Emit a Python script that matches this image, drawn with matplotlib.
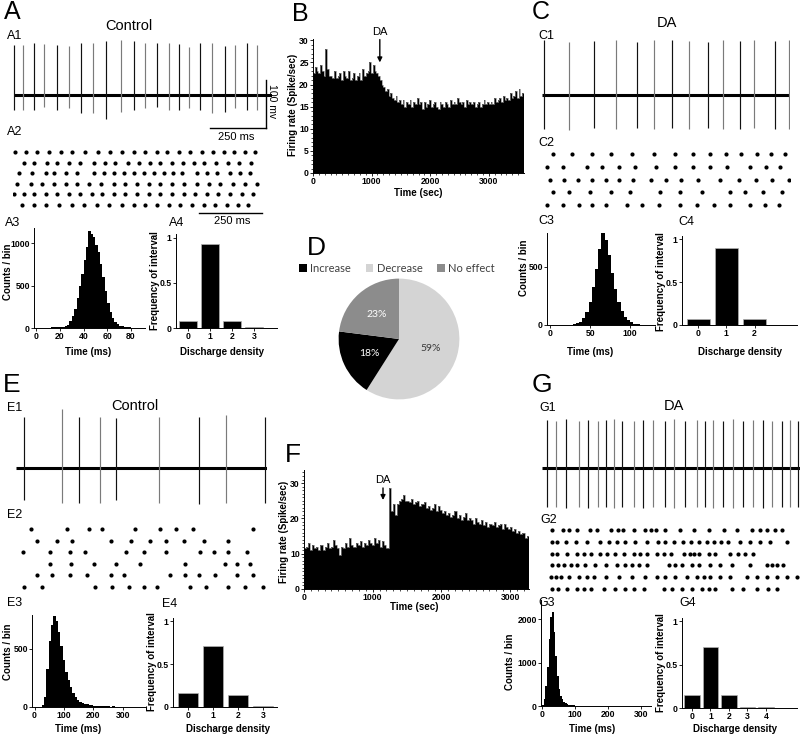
"""
Recreation of a multi-panel electrophysiology figure: spike traces, rasters,
ISI histograms, discharge-density bars, firing-rate time courses and a pie.
"""
import matplotlib
matplotlib.use("Agg")
import matplotlib.pyplot as plt
from matplotlib import font_manager as fm
from matplotlib.lines import Line2D
import numpy as np

W, H = 800, 737
MS_PER_PX = 4.375     # time scale of traces / rasters
PX_PER_MV = 0.47      # vertical scale of traces

# ---------------- data ----------------
# A: control, regular firing
a1_spike_ms = [0, 43, 89, 133, 191, 242, 296, 349, 407, 471, 526, 577, 629, 680, 727, 771, 818, 869, 927, 971, 1022, 1068]
a1_peak_mv = [106, 106, 110, 108, 106, 104, 110, 110, 114, 117, 114, 110, 110, 111, 108, 103, 110, 110, 104, 106, 110, 106]
a1_trough_mv = [-32, -32, -32, -25, -32, -28, -39, -39, -50, -36, -32, -28, -25, -32, -32, -28, -32, -39, -36, -28, -32, -32]
a2_rows_ms = [
    [4, 52, 104, 154, 206, 256, 315, 370, 424, 476, 526, 578, 629, 672, 723, 774, 825, 875, 923, 967, 1015, 1059],
    [45, 89, 147, 191, 242, 293, 351, 402, 446, 500, 548, 599, 643, 694, 742, 789, 835, 888, 942, 990, 1040],
    [23, 82, 140, 176, 228, 278, 351, 395, 439, 483, 526, 570, 614, 658, 701, 738, 803, 847, 891, 949, 993, 1037],
    [16, 74, 126, 176, 228, 278, 330, 381, 439, 490, 541, 592, 643, 694, 745, 803, 855, 906, 964, 1015, 1066],
    [0, 45, 89, 140, 191, 242, 293, 344, 388, 439, 490, 541, 592, 643, 694, 745, 796, 847, 898, 949, 1000, 1051],
    [38, 89, 140, 198, 257, 308, 366, 417, 475, 526, 577, 629, 680, 731, 782, 833, 884, 935, 986, 1029],
]
a3_bin_ms = 2
a3_counts = [3, 3, 4, 4, 5, 5, 6, 6, 8, 8, 10, 14, 20, 40, 80, 140, 230, 350, 500, 640, 800, 960,
             1150, 1110, 1070, 980, 900, 760, 600, 440, 300, 190, 120, 75, 45, 28, 18, 12, 8, 6, 5, 4, 3, 2]
a4_density = [0, 1, 2, 3]
a4_freq = [0.08, 0.93, 0.08, 0.01]

# B: firing rate, DA decreases rate (30 s bins)
b_bin_sec = 30
b_rate = [22.5, 24, 23, 22.5, 24.5, 23, 22, 28, 23.5, 22,
          22, 21.5, 23, 21.5, 22, 22.5, 21, 23, 22, 21.5,
          23, 21, 21.5, 22.5, 21, 22, 22.5, 21, 23.5, 22,
          22.5, 23, 25, 22.5, 24.5, 23, 22.5, 22, 21, 20,
          19.5, 18.5, 19, 17.5, 18, 17, 16.5, 17.5, 16, 16.5,
          15.5, 16.5, 15, 16, 15.5, 16.5, 15, 16, 15.5, 17,
          15.5, 16, 14.5, 16, 15, 15.5, 16.5, 15, 15.5, 16,
          15, 14.5, 16, 15.5, 15, 16, 15.5, 15, 16.5, 15.5,
          16, 15.5, 17, 16, 15.5, 16, 15, 16.5, 15.5, 16,
          15.5, 16, 15, 15.5, 16, 15, 15.5, 16.5, 15.5, 16,
          15.5, 16, 15.5, 17, 16, 16.5, 17, 16, 17.5, 16.5,
          17, 16.5, 18, 17, 17.5, 18.5, 17, 19, 17.5, 18]
b_da_sec = 1140

# C: DA, regular firing
c1_spike_ms = [9, 118, 228, 328, 420, 494, 573, 648, 731, 796, 871, 932, 1024, 1085]
c1_peak_mv = [117, 113, 115, 117, 112, 116, 117, 115, 113, 117, 114, 116, 115, 117]
c1_trough_mv = [-72, -74, -70, -72, -70, -73, -71, -72, -70, -72, -73, -71, -72, -73]
c2_rows_ms = [
    [51, 134, 219, 305, 397, 494, 586, 662, 739, 809, 875, 943, 1005, 1067],
    [22, 95, 200, 265, 338, 411, 503, 583, 662, 739, 815, 914, 984, 1045],
    [36, 98, 160, 222, 280, 338, 401, 480, 547, 611, 684, 783, 866, 941, 1009, 1086],
    [51, 119, 211, 302, 386, 521, 608, 703, 824, 892, 973, 1053],
    [22, 95, 163, 219, 284, 375, 440, 513, 608, 681, 754, 824, 914, 980, 1043],
]
c3_bin_ms = 4
c3_counts = [0, 0, 0, 0, 1, 2, 4, 8, 15, 30, 60, 110, 200, 330, 480, 650, 790, 730, 600, 450,
             310, 200, 120, 70, 40, 22, 12, 6, 3, 1]
c4_density = [0, 1, 2]
c4_freq = [0.07, 0.90, 0.07]

# D: pie of DA effects
pie_labels = ["Increase", "Decrease", "No effect"]
pie_pct = [18, 59, 23]

# E: control, irregular firing
e1_spike_ms = [35, 201, 276, 368, 442, 630, 805, 923, 1094]
e1_peak_mv = [109, 125, 109, 109, 107, 109, 109, 112, 109]
e1_trough_mv = [-68, -74, -74, -74, -68, -74, -77, -74, -74]
e2_rows_ms = [
    [68, 226, 321, 379, 525, 632, 704, 776, 1043],
    [92, 182, 248, 416, 506, 588, 659, 740, 827, 933],
    [34, 150, 238, 302, 486, 561, 661, 809, 868, 933, 1014],
    [150, 244, 343, 442, 547, 744, 919, 970, 1028],
    [92, 160, 238, 311, 416, 474, 675, 744, 806, 875, 970, 1043],
    [37, 117, 350, 423, 496, 561, 620, 763, 835, 933, 1006, 1086],
]
e3_bin_ms = 8
e3_counts = [0, 0, 2, 15, 90, 330, 570, 700, 780, 740, 640, 520, 400, 300, 230, 170, 120, 85, 60, 45,
             35, 28, 22, 17, 14, 11, 9, 12, 8, 6, 10, 5, 4, 6, 3, 3, 2, 4, 2, 1, 2, 1, 1, 2, 0, 0, 1]
e4_density = [0, 1, 2, 3]
e4_freq = [0.16, 0.71, 0.14, 0.01]

# F: firing rate, DA increases rate (30 s bins)
f_bin_sec = 30
f_rate = [11.5, 12, 13, 11, 12.5, 11.5, 12, 11, 12.5, 11,
          12, 13, 11.5, 12, 14, 12.5, 11.5, 9.5, 12, 11.5,
          13, 12, 14.5, 12.5, 12, 13, 12.5, 13.5, 12, 13,
          12.5, 14, 13, 12.5, 14.5, 13, 14, 12, 13.5, 12.5,
          11.5, 28.5, 22, 24, 21, 24, 25, 25.5, 26.5, 25,
          25, 24.5, 25.5, 24, 24.5, 25, 23.5, 24, 24.5, 23,
          23.5, 22.5, 23, 24, 22, 23.5, 22.5, 21.5, 22, 21,
          21.5, 20.5, 21, 22, 20, 21, 19.5, 20.5, 21.5, 19.5,
          20, 19.5, 18.5, 20, 19, 18.5, 19.5, 18, 19, 17.5,
          18.5, 18, 19, 17.5, 18, 18.5, 17, 18.5, 17.5, 17,
          17.5, 16.5, 17, 16, 16.5, 15.5, 16, 14.5, 15, 14]
f_da_sec = 1150

# G: DA, faster firing
g1_spike_ms = [22, 61, 105, 162, 201, 245, 280, 319, 354, 403, 446, 490, 543, 582, 630, 683, 718, 753,
               796, 840, 884, 928, 971, 1011, 1054, 1089, 1124]
g1_peak_mv = [102, 100, 104, 101, 103, 100, 102, 104, 101, 100, 103, 102, 100, 104, 101, 102, 100, 103,
              101, 104, 100, 102, 103, 101, 100, 102, 101]
g1_trough_mv = [-84, -82, -86, -83, -85, -82, -84, -86, -83, -82, -85, -84, -82, -86, -83, -84, -82, -85,
                -83, -86, -82, -84, -85, -83, -82, -84, -83]
g2_rows_ms = [
    [47, 95, 120, 156, 214, 243, 302, 334, 357, 404, 455, 480, 503, 543, 608, 666, 732, 798, 856, 921, 958, 990, 1023, 1053],
    [47, 68, 105, 149, 199, 255, 294, 331, 367, 411, 462, 509, 543, 582, 620, 655, 688, 725, 754, 786, 819, 870, 914, 958, 1001, 1074],
    [47, 68, 112, 153, 185, 217, 255, 287, 323, 360, 404, 430, 462, 506, 535, 567, 623, 649, 666, 688, 732, 761, 827, 863, 892, 929],
    [47, 71, 98, 127, 156, 192, 236, 280, 331, 367, 396, 426, 462, 557, 586, 615, 659, 688, 739, 783, 834, 914, 987, 1009, 1031, 1060],
    [39, 61, 83, 120, 163, 197, 229, 280, 338, 396, 455, 506, 543, 586, 637, 681, 710, 739, 783, 827, 899, 943, 987, 1031, 1074, 1118],
    [47, 71, 112, 153, 185, 217, 272, 323, 367, 404, 448, 535, 571, 615, 659, 703, 732, 761, 834, 885, 943, 994, 1031],
]
g3_bin_ms = 5
g3_counts = [20, 150, 450, 900, 1550, 2050, 2150, 1700, 1150, 700, 400, 240, 150, 100, 60, 45, 30, 22, 18, 14, 10, 8,
             6, 5, 5, 4, 4, 3, 3, 3, 2, 2, 2, 3, 2, 1, 2, 2, 1, 2, 1, 1, 3, 1, 0, 2, 1, 1, 2, 0, 1, 3,
             1, 1, 2, 0, 1, 1, 2, 1, 0, 1, 2, 1, 1, 0]
g4_density = [0, 1, 2, 3, 4]
g4_freq = [0.15, 0.70, 0.15, 0.01, 0.01]

# ---------------- fonts ----------------
_names = {f.name for f in fm.fontManager.ttflist}
NARROW = "Liberation Sans Narrow" if "Liberation Sans Narrow" in _names else "Liberation Sans"
THIN = "Liberation Sans"
plt.rcParams["font.family"] = [NARROW, "DejaVu Sans"]
plt.rcParams["font.weight"] = "bold"
TICK_FS = 6.2
LAB_FS = 7

fig = plt.figure(figsize=(W / 100, H / 100), dpi=100)
fig.patch.set_facecolor("white")


def add_ax(x0, y0, x1, y1):
    """Axes from pixel box (top-left origin)."""
    return fig.add_axes([x0 / W, 1 - y1 / H, (x1 - x0) / W, (y1 - y0) / H])


def ftext(x, y, s, size, thin=False, **kw):
    kw.setdefault("ha", "center")
    kw.setdefault("va", "center")
    if thin:
        kw.update(family=THIN, weight="normal")
    fig.text(x / W, 1 - y / H, s, fontsize=size, **kw)


def fline(x0, y0, x1, y1, lw=1.0):
    fig.add_artist(Line2D([x0 / W, x1 / W], [1 - y0 / H, 1 - y1 / H], color="black", lw=lw))


def draw_trace(x0, x1, base_y, spikes, peaks, troughs):
    top = base_y - 132 * PX_PER_MV
    bot = base_y + 92 * PX_PER_MV
    ax = add_ax(x0, top, x1, bot)
    dur = (x1 - x0) * MS_PER_PX
    ax.set_xlim(-3, dur)
    ax.set_ylim(-92, 132)
    ax.axis("off")
    ax.plot([0, dur], [0, 0], color="black", lw=2.2, solid_capstyle="butt")
    cols = ["#111111" if i % 2 == 0 else "#7a7a7a" for i in range(len(spikes))]
    ax.vlines(spikes, troughs, peaks, colors=cols, lw=0.85)
    return ax


def draw_raster(x0, x1, y_first, y_last, rows):
    n = len(rows)
    sp = (y_last - y_first) / (n - 1)
    ax = add_ax(x0, y_first - sp / 2, x1, y_last + sp / 2)
    ax.set_xlim(-3, (x1 - x0) * MS_PER_PX)
    ax.set_ylim(n - 0.5, -0.5)
    ax.axis("off")
    for i, r in enumerate(rows):
        ax.plot(r, [i] * len(r), "o", ms=3.0, color="black", mec="none")
    return ax


def style(ax):
    ax.spines["top"].set_visible(False)
    ax.spines["right"].set_visible(False)
    for s in ("left", "bottom"):
        ax.spines[s].set_linewidth(0.7)
    ax.tick_params(axis="both", length=2, width=0.6, pad=1.0, labelsize=TICK_FS)


def draw_isi(box, bin_ms, counts, xlim, ylim, xticks, yticks):
    ax = add_ax(*box)
    edges = np.arange(len(counts) + 1) * bin_ms
    ax.stairs(counts, edges, fill=True, color="black", lw=0)
    ax.set_xlim(*xlim)
    ax.set_ylim(*ylim)
    ax.set_xticks(xticks)
    ax.set_yticks(yticks)
    style(ax)
    return ax


def draw_density(box, dens, freq, xlim):
    ax = add_ax(*box)
    ax.bar(dens, freq, width=0.82, color="black", edgecolor="#b0b0b0", lw=0.5)
    ax.set_xlim(*xlim)
    ax.set_ylim(0, 1.04)
    ax.set_xticks(dens)
    ax.set_yticks([0, 0.5, 1])
    ax.set_yticklabels(["0", "0.5", "1"])
    style(ax)
    return ax


def draw_rate(box, bin_sec, rate, xlim, ylim, yticks, da_sec, da_y, da_text_y):
    ax = add_ax(*box)
    edges = np.arange(len(rate) + 1) * bin_sec
    ax.stairs(rate, edges, fill=True, color="black", lw=0)
    ax.stairs(rate, edges, color="#8a8a8a", lw=0.5)
    ax.set_xlim(*xlim)
    ax.set_ylim(*ylim)
    ax.set_xticks([0, 1000, 2000, 3000])
    ax.set_yticks(yticks)
    ax.set_xticks(np.arange(0, xlim[1], 100), minor=True)
    ax.set_yticks(np.arange(0, ylim[1], 1), minor=True)
    style(ax)
    ax.tick_params(which="minor", length=1.2, width=0.5)
    ax.annotate("DA", xy=(da_sec, da_y), xytext=(da_sec, da_text_y), ha="center", va="bottom",
                fontsize=8, family=THIN, weight="normal", annotation_clip=False,
                arrowprops=dict(arrowstyle="-|>", color="black", lw=1.0, mutation_scale=7, shrinkA=0, shrinkB=0))
    return ax


# ---------------- panel A ----------------
ftext(4, 12, "A", 18, thin=True, ha="left")
ftext(129, 26, "Control", 10.5, thin=True)
ftext(15, 36, "A1", 9, thin=True)
draw_trace(13, 272, 95, a1_spike_ms, a1_peak_mv, a1_trough_mv)
fline(266, 80, 266, 128)
fline(210, 128, 266, 128)
ftext(272, 101, "100 mv", 7.5, thin=True, rotation=270)
ftext(236, 137, "250 ms", 8, thin=True)
ftext(15, 132, "A2", 9, thin=True)
draw_raster(13, 272, 152, 205, a2_rows_ms)
fline(199, 213, 262, 213)
ftext(232, 221, "250 ms", 8, thin=True)
ftext(13, 223, "A3", 9, thin=True)
draw_isi((34, 228, 145, 328), a3_bin_ms, a3_counts, (-2, 92), (0, 1180), [0, 20, 40, 60, 80], [0, 500, 1000])
ftext(8, 272, "Counts / bin", LAB_FS, rotation=90)
ftext(88, 352, "Time (ms)", LAB_FS)
ftext(177, 223, "A4", 9, thin=True)
draw_density((176, 234, 277, 328), a4_density, a4_freq, (-0.55, 4.05))
ftext(155, 281, "Frequency of interval", LAB_FS, rotation=90)
ftext(222, 352, "Discharge density", LAB_FS)

# ---------------- panel B ----------------
ftext(292, 14, "B", 18, thin=True, ha="left")
draw_rate((313, 39, 524, 173), b_bin_sec, b_rate, (0, 3600), (0, 30.3), [0, 5, 10, 15, 20, 25, 30],
          b_da_sec, 25, 30.8)
ftext(293, 105, "Firing rate (Spike/sec)", LAB_FS, rotation=90)
ftext(418, 193, "Time (sec)", LAB_FS)

# ---------------- panel C ----------------
ftext(532, 12, "C", 18, thin=True, ha="left")
ftext(667, 23, "DA", 10.5, thin=True)
ftext(546, 36, "C1", 9, thin=True)
draw_trace(541, 790, 95, c1_spike_ms, c1_peak_mv, c1_trough_mv)
ftext(546, 143, "C2", 9, thin=True)
draw_raster(541, 790, 154, 205, c2_rows_ms)
ftext(546, 221, "C3", 9, thin=True)
draw_isi((547, 233, 655, 325), c3_bin_ms, c3_counts, (-4, 131), (0, 790), [0, 50, 100], [0, 500])
ftext(524, 268, "Counts / bin", LAB_FS, rotation=90)
ftext(590, 352, "Time (ms)", LAB_FS)
ftext(686, 222, "C4", 9, thin=True)
draw_density((682, 236, 797, 325), c4_density, c4_freq, (-0.57, 3.5))
ftext(661, 282, "Frequency of interval", LAB_FS, rotation=90)
ftext(740, 352, "Discharge density", LAB_FS)

# ---------------- panel D ----------------
ftext(307, 248, "D", 19, thin=True, ha="left")
axp = add_ax(338, 278, 460, 400)
order = [1, 0, 2]   # draw Decrease first, clockwise from 12 o'clock
pie_colors = {"Increase": "#000000", "Decrease": "#d4d4d4", "No effect": "#8c8c8c"}
wedges, texts, autot = axp.pie([pie_pct[i] for i in order], colors=[pie_colors[pie_labels[i]] for i in order],
                               startangle=90, counterclock=False, autopct=lambda p: f"{round(p):d}%",
                               pctdistance=0.55, radius=1.0,
                               textprops=dict(family="Lato", weight="normal", fontsize=7.5))
for t, i in zip(autot, order):
    t.set_color("#3a3a3a" if pie_labels[i] == "Decrease" else "white")
axp.set_xlim(-1.01, 1.01)
axp.set_ylim(-1.01, 1.01)
axp.set_aspect("equal")
handles = [wedges[order.index(i)] for i in range(3)]
fig.legend(handles, pie_labels, ncol=3, loc="center", bbox_to_anchor=(397 / W, 1 - 268 / H), frameon=False,
           prop=dict(family="Lato", weight="normal", size=8), handlelength=0.7,
           handleheight=0.7, columnspacing=1.3, handletextpad=0.3, labelcolor="#404040")

# ---------------- panel E ----------------
ftext(3, 385, "E", 19, thin=True, ha="left")
ftext(135, 406, "Control", 10.5, thin=True)
ftext(15, 408, "E1", 9, thin=True)
draw_trace(15, 267, 468, e1_spike_ms, e1_peak_mv, e1_trough_mv)
ftext(15, 515, "E2", 9, thin=True)
draw_raster(15, 267, 529, 587, e2_rows_ms)
ftext(15, 603, "E3", 9, thin=True)
draw_isi((32, 615, 145, 707), e3_bin_ms, e3_counts, (-8.5, 375), (0, 790), [0, 100, 200, 300], [0, 500])
ftext(8, 652, "Counts / bin", LAB_FS, rotation=90)
ftext(78, 729, "Time (ms)", LAB_FS)
ftext(170, 604, "E4", 9, thin=True)
draw_density((173, 618, 277, 707), e4_density, e4_freq, (-0.6, 3.55))
ftext(152, 662, "Frequency of interval", LAB_FS, rotation=90)
ftext(228, 729, "Discharge density", LAB_FS)

# ---------------- panel F ----------------
ftext(285, 455, "F", 19, thin=True, ha="left")
draw_rate((304, 470, 529, 589), f_bin_sec, f_rate, (0, 3275), (0, 33.7), [0, 10, 20, 30],
          f_da_sec, 25.2, 29.4)
ftext(284, 532, "Firing rate (Spike/sec)", LAB_FS, rotation=90)
ftext(414, 607, "Time (sec)", LAB_FS)

# ---------------- panel G ----------------
ftext(532, 385, "G", 19, thin=True, ha="left")
ftext(674, 406, "DA", 10.5, thin=True)
ftext(548, 408, "G1", 9, thin=True)
draw_trace(541, 800, 468, g1_spike_ms, g1_peak_mv, g1_trough_mv)
ftext(549, 520, "G2", 9, thin=True)
draw_raster(541, 800, 530, 589, g2_rows_ms)
ftext(547, 603, "G3", 9, thin=True)
draw_isi((541, 600, 651, 706), g3_bin_ms, g3_counts, (-3, 330), (0, 2437), [0, 100, 200, 300], [0, 1000, 2000])
ftext(510, 662, "Counts / bin", LAB_FS, rotation=90)
ftext(592, 729, "Time (ms)", LAB_FS)
ftext(688, 603, "G4", 9, thin=True)
draw_density((682, 618, 797, 708), g4_density, g4_freq, (-0.54, 5.68))
ftext(661, 663, "Frequency of interval", LAB_FS, rotation=90)
ftext(735, 729, "Discharge density", LAB_FS)

fig.savefig("out.png", dpi=100, facecolor="white")
